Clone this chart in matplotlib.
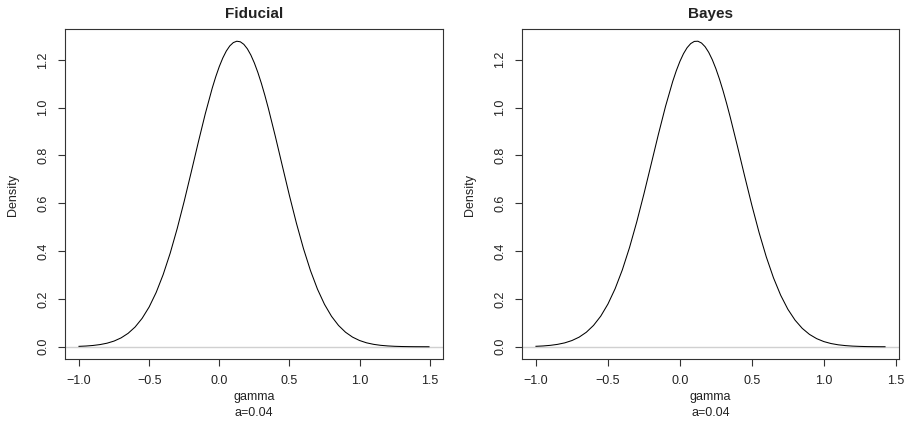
import matplotlib
matplotlib.use("Agg")
import matplotlib.pyplot as plt

plt.rcParams['font.family'] = ['Liberation Sans', 'DejaVu Sans']

# ---- data ----
fid_x = [-1.00, -0.95, -0.90, -0.85, -0.80, -0.75, -0.70, -0.65, -0.60, -0.55,
         -0.50, -0.45, -0.40, -0.35, -0.30, -0.25, -0.20, -0.15, -0.10, -0.05,
         -0.025, 0.00, 0.025, 0.05, 0.075, 0.10, 0.125, 0.15, 0.175, 0.20,
         0.225, 0.25, 0.275, 0.30, 0.325, 0.35, 0.40, 0.45,
         0.50, 0.55, 0.60, 0.65, 0.70, 0.75, 0.80, 0.85, 0.90, 0.95,
         1.00, 1.05, 1.10, 1.15, 1.20, 1.25, 1.30, 1.35, 1.40, 1.45, 1.495]
fid_y = [0.0018, 0.0032, 0.0055, 0.0092, 0.0150, 0.0239, 0.0372, 0.0562, 0.0827, 0.1189,
         0.1664, 0.2270, 0.3020, 0.3913, 0.4944, 0.6087, 0.7305, 0.8543, 0.9740, 1.0821,
         1.1296, 1.1718, 1.2076, 1.2367, 1.2583, 1.2721, 1.2778, 1.2754, 1.2648, 1.2462,
         1.2201, 1.1869, 1.1472, 1.1018, 1.0513, 0.9967, 0.8789, 0.7553,
         0.6326, 0.5165, 0.4109, 0.3187, 0.2409, 0.1775, 0.1275, 0.0892, 0.0608, 0.0404,
         0.0262, 0.0165, 0.0102, 0.0061, 0.0036, 0.0020, 0.0011, 0.0006, 0.0003, 0.0002, 0.0001]

bay_x = [-1.00, -0.95, -0.90, -0.85, -0.80, -0.75, -0.70, -0.65, -0.60, -0.55,
         -0.50, -0.45, -0.40, -0.35, -0.30, -0.25, -0.20, -0.15, -0.10, -0.05,
         -0.025, 0.00, 0.025, 0.05, 0.075, 0.10, 0.125, 0.15, 0.175, 0.20,
         0.225, 0.25, 0.275, 0.30, 0.325, 0.35, 0.40, 0.45,
         0.50, 0.55, 0.60, 0.65, 0.70, 0.75, 0.80, 0.85, 0.90, 0.95,
         1.00, 1.05, 1.10, 1.15, 1.20, 1.25, 1.30, 1.35, 1.40, 1.425]
bay_y = [0.0020, 0.0035, 0.0060, 0.0101, 0.0164, 0.0261, 0.0403, 0.0608, 0.0894, 0.1280,
         0.1787, 0.2429, 0.3215, 0.4150, 0.5217, 0.6390, 0.7626, 0.8868, 1.0048, 1.1092,
         1.1541, 1.1930, 1.2253, 1.2503, 1.2674, 1.2765, 1.2773, 1.2698, 1.2543, 1.2309,
         1.2000, 1.1623, 1.1186, 1.0696, 1.0160, 0.9589, 0.8375, 0.7127,
         0.5911, 0.4775, 0.3758, 0.2883, 0.2154, 0.1568, 0.1113, 0.0769, 0.0518, 0.0340,
         0.0217, 0.0135, 0.0082, 0.0049, 0.0028, 0.0016, 0.0008, 0.0004, 0.0002, 0.0002]

titles = ["Fiducial", "Bayes"]
xlabel = "gamma"
sublabel = "a=0.04"
ylabel = "Density"
xticks = [-1.0, -0.5, 0.0, 0.5, 1.0, 1.5]
yticks = [0.0, 0.2, 0.4, 0.6, 0.8, 1.0, 1.2]

W, H = 908, 424
fig = plt.figure(figsize=(W / 100, H / 100), dpi=100)

panels = [
    (fid_x, fid_y, (65, 443)),
    (bay_x, bay_y, (522, 899)),
]
top_px, bot_px = 29, 359
txt = '#222222'

for (xs, ys, (l_px, r_px)), title in zip(panels, titles):
    ax = fig.add_axes([l_px / W, 1 - bot_px / H, (r_px - l_px) / W, (bot_px - top_px) / H])
    xr = max(xs) - min(xs)
    ax.set_xlim(min(xs) - 0.04 * xr, max(xs) + 0.04 * xr)
    ymax = max(ys)
    ax.set_ylim(-0.04 * ymax, ymax * 1.04)
    ax.axhline(0, color='#D0D0D0', lw=1.0, zorder=1)
    ax.plot(xs, ys, color='black', lw=0.75, zorder=2, solid_joinstyle='round')
    ax.set_xticks(xticks)
    ax.set_xticklabels([f"{t:.1f}".replace('-', '\u2212') for t in xticks])
    ax.set_yticks(yticks)
    ax.set_yticklabels([f"{t:.1f}" for t in yticks])
    ax.tick_params(axis='both', direction='out', length=5.2, width=0.8, labelsize=9,
                   pad=6, colors='#333333', labelcolor=txt)
    ax.tick_params(axis='y', labelrotation=90)
    for lab in ax.get_yticklabels():
        lab.set_va('center')
    for s in ax.spines.values():
        s.set_linewidth(0.8)
        s.set_color('#333333')
    cx = (l_px + r_px) / 2 / W
    fig.text(cx, 1 - 14 / H, title, ha='center', va='center', fontsize=11,
             fontweight='bold', color=txt)
    fig.text(cx, 1 - 397 / H, xlabel, ha='center', va='center', fontsize=9, color=txt)
    fig.text(cx, 1 - 413 / H, sublabel, ha='center', va='center', fontsize=9, color=txt)
    fig.text((l_px - 52) / W, 1 - 195 / H, ylabel, ha='center', va='center',
             rotation=90, fontsize=9, color=txt)

fig.savefig("out.png", dpi=100)
